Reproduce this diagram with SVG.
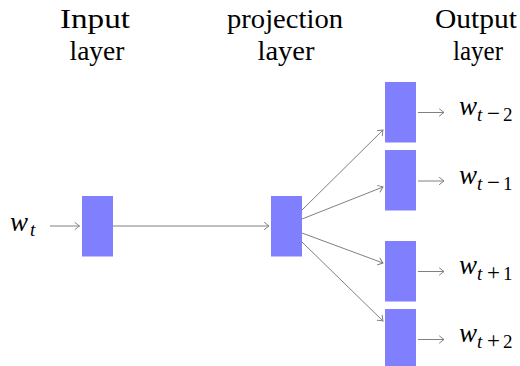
<svg xmlns="http://www.w3.org/2000/svg" width="520" height="366" viewBox="0 0 520 366">
<defs>
<marker id="arr" markerUnits="userSpaceOnUse" markerWidth="12" markerHeight="12" viewBox="-6 -6 12 12" refX="0" refY="0" orient="auto">
<path d="M-4.5,-3.5 Q-1.5,-1 0,0 Q-1.5,1 -4.5,3.5" fill="none" stroke="#808080" stroke-width="1" stroke-linecap="round"/>
</marker>
</defs>
<style>
.box{fill:#8080ff}
text{font-family:'Liberation Serif','DejaVu Serif',serif;fill:#000}
.title{font-size:28px;text-anchor:middle}
.math{font-size:27px;font-style:italic}
.sub{font-size:19px}
.op{font-size:23px;font-style:normal}
.up{font-style:normal}
.conn line{stroke:#808080;stroke-width:1;fill:none;marker-end:url(#arr)}
</style>
<g id="labels">
<text class="title" x="95" y="28" textLength="70" lengthAdjust="spacingAndGlyphs">Input</text>
<text class="title" x="97" y="60" textLength="55" lengthAdjust="spacingAndGlyphs">layer</text>
<text class="title" x="285" y="28" textLength="116" lengthAdjust="spacingAndGlyphs">projection</text>
<text class="title" x="286" y="60" textLength="57" lengthAdjust="spacingAndGlyphs">layer</text>
<text class="title" x="476" y="28" textLength="82" lengthAdjust="spacingAndGlyphs">Output</text>
<text class="title" x="478" y="60" textLength="50" lengthAdjust="spacingAndGlyphs">layer</text>
</g>
<g id="input-word">
<text class="math" x="10" y="231">w<tspan class="sub" x="30" dy="5">t</tspan></text>
</g>
<g id="input-node"><rect class="box" x="82" y="196" width="31" height="60.5"/></g>
<g id="projection-node"><rect class="box" x="271" y="196" width="31" height="60.5"/></g>
<g id="output-1"><rect class="box" x="385" y="82" width="31" height="60.5"/></g>
<g id="output-2"><rect class="box" x="385" y="150" width="31" height="60.5"/></g>
<g id="output-3"><rect class="box" x="385" y="241" width="31" height="60.5"/></g>
<g id="output-4"><rect class="box" x="385" y="309" width="31" height="60.5"/></g>
<g id="output-words">
<text class="math" x="459" y="115">w<tspan class="sub" x="477" dy="6">t</tspan><tspan class="op" x="487">−</tspan><tspan class="sub up" x="503">2</tspan></text>
<text class="math" x="459" y="183.5">w<tspan class="sub" x="477" dy="6">t</tspan><tspan class="op" x="487">−</tspan><tspan class="sub up" x="503">1</tspan></text>
<text class="math" x="459" y="274">w<tspan class="sub" x="477" dy="6">t</tspan><tspan class="op" x="487">+</tspan><tspan class="sub up" x="503">1</tspan></text>
<text class="math" x="459" y="342">w<tspan class="sub" x="477" dy="6">t</tspan><tspan class="op" x="487">+</tspan><tspan class="sub up" x="503">2</tspan></text>
</g>
<g id="connectors" class="conn">
<line x1="50" y1="226" x2="79.5" y2="226"/>
<line x1="113" y1="226" x2="269" y2="226"/>
<line x1="302" y1="210" x2="383" y2="130"/>
<line x1="302" y1="219" x2="383" y2="187"/>
<line x1="302" y1="233" x2="383" y2="263"/>
<line x1="302" y1="242" x2="383" y2="321"/>
<line x1="418" y1="112.5" x2="444" y2="112.5"/>
<line x1="418" y1="181" x2="444" y2="181"/>
<line x1="418" y1="271.5" x2="444" y2="271.5"/>
<line x1="418" y1="339.5" x2="444" y2="339.5"/>
</g>
</svg>
